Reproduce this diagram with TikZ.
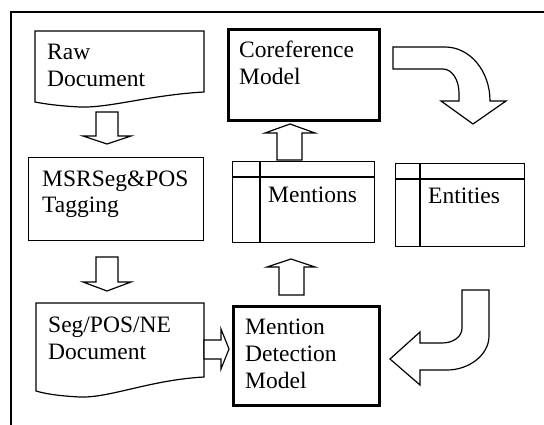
\documentclass[tikz,border=0pt]{standalone}
\usepackage{fontspec}
\setmainfont{Liberation Serif}
\begin{document}
\begin{tikzpicture}[x=1pt,y=-1pt,
  thin/.style={draw=black,line width=1.2pt,line join=miter},
  thick/.style={draw=black,line width=2.6pt},
  blk/.style={draw=black,line width=1.2pt,fill=white,line join=miter},
  txt/.style={inner sep=0pt,anchor=base west,align=left,font=\fontsize{23.5}{27}\selectfont}]
\useasboundingbox (0,0) rectangle (544,425);
% outer frame (left and top edges)
\draw[thin] (11,425) -- (11,12) -- (544,12);
% Raw Document
\draw[thin] (35,31) -- (204,31) -- (204,92) .. controls (150,95) and (110,108) .. (80,107)
  .. controls (60,106) and (45,104) .. (35,102) -- cycle;
\node[txt] (raw) at (47,87) {Raw\\Document};
% MSRSeg&POS Tagging
\node[thin,rectangle,inner sep=0pt,minimum width=175pt,minimum height=83pt,anchor=north west] (msr) at (28,157) {};
\node[txt] (msrT) at (42,213) {MSRSeg\&POS\\Tagging};
% Seg/POS/NE Document
\draw[thin] (36,303) -- (204,303) -- (204,377) .. controls (150,380) and (110,398) .. (80,397)
  .. controls (60,396) and (46,394) .. (36,391) -- cycle;
\node[txt] (seg) at (48,359) {Seg/POS/NE\\Document};
% Coreference Model
\node[thick,rectangle,inner sep=0pt,minimum width=151pt,minimum height=91pt,anchor=north west] (coref) at (227,28) {};
\node[txt] (corefT) at (239,85) {Coreference\\Model};
% Mention Detection Model
\node[thick,rectangle,inner sep=0pt,minimum width=146pt,minimum height=99pt,anchor=north west] (mdm) at (232,305) {};
\node[txt] (mdmT) at (245,388) {Mention\\Detection\\Model};
% Mentions table
\node[thin,rectangle,inner sep=0pt,minimum width=142pt,minimum height=81pt,anchor=north west] (ment) at (232,161) {};
\draw[thin] (232,177) -- (374,177);
\draw[thin] (260,161) -- (260,242);
\node[txt] (mentT) at (268,203) {Mentions};
% Entities table
\node[thin,rectangle,inner sep=0pt,minimum width=129pt,minimum height=83pt,anchor=north west] (ent) at (395,163) {};
\draw[thin] (395,179) -- (524,179);
\draw[thin] (420,163) -- (420,246);
\node[txt] (entT) at (428,204) {Entities};
% block arrows
\draw[blk] (96,112) -- (118,112) -- (118,136) -- (131,136) -- (107,144) -- (83,136) -- (96,136) -- cycle;
\draw[blk] (96,257) -- (118,257) -- (118,282) -- (131,282) -- (107,291) -- (83,282) -- (96,282) -- cycle;
\draw[blk] (204,340) -- (221,340) -- (221,329) -- (229,349) -- (221,369) -- (221,359) -- (204,359) -- cycle;
\draw[blk] (279,295) -- (279,267) -- (267,267) -- (291,259) -- (315,267) -- (304,267) -- (304,295) -- cycle;
\draw[blk] (277,160) -- (277,133) -- (265,133) -- (290,124) -- (315,133) -- (302,133) -- (302,160) -- cycle;
% curved arrow top right
\draw[blk] (393,47) -- (445,47) .. controls (470,47) and (490,71) .. (490,101) -- (506,101) -- (473,124)
  -- (441,101) -- (459,101) -- (459,93) .. controls (459,80) and (452,69) .. (443,69) -- (393,69) -- cycle;
% curved arrow bottom right
\draw[blk] (462,290) -- (489,290) -- (489,336) .. controls (489,355) and (469,370) .. (447,370) -- (420,370)
  -- (420,385) -- (390,359) -- (420,332) -- (420,343) -- (442,343) .. controls (453,343) and (462,337) .. (462,328) -- cycle;
\end{tikzpicture}
\end{document}
